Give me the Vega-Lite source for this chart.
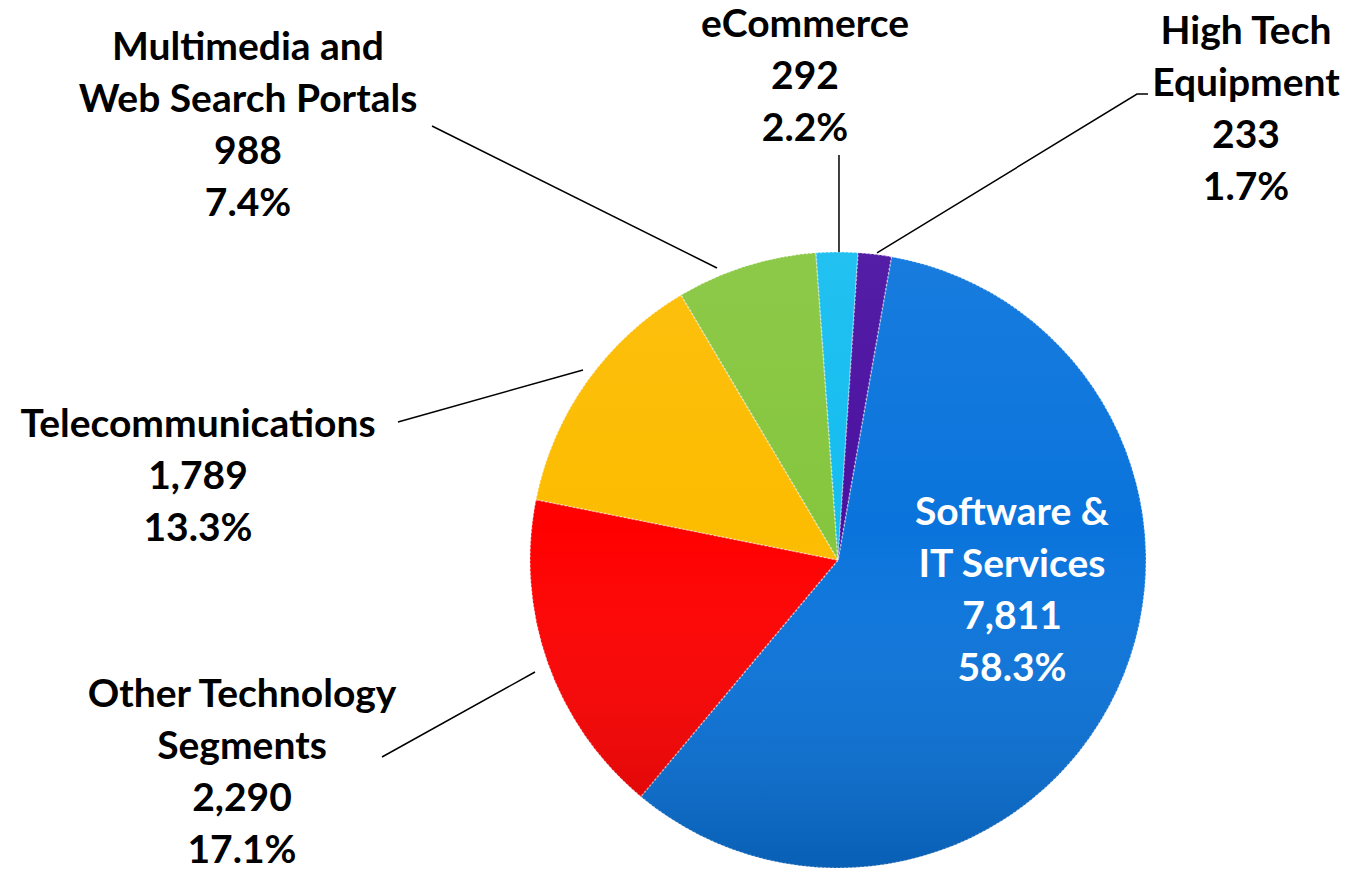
{
  "$schema": "https://vega.github.io/schema/vega-lite/v6.json",
  "width": 1028,
  "height": 620,
  "autosize": {"type": "none"},
  "padding": {"left": 324, "top": 250, "right": 0, "bottom": 0},
  "background": "#ffffff",
  "config": {"view": {"stroke": null}},
  "datasets": {
    "segments": [
      {"segment": "Software & IT Services", "value": 7811, "pct": 58.3, "rank": 1},
      {"segment": "Other Technology Segments", "value": 2290, "pct": 17.1, "rank": 2},
      {"segment": "Telecommunications", "value": 1789, "pct": 13.3, "rank": 3},
      {"segment": "Multimedia and Web Search Portals", "value": 988, "pct": 7.4, "rank": 4},
      {"segment": "eCommerce", "value": 292, "pct": 2.2, "rank": 5},
      {"segment": "High Tech Equipment", "value": 233, "pct": 1.7, "rank": 6}
    ],
    "labels": [
      {"segment": "Software & IT Services", "label": "Software &\nIT Services\n7,811\n58.3%", "inside": true, "lx": 0.5649, "ly": 0.1526},
      {"segment": "Other Technology Segments", "label": "Other Technology\nSegments\n2,290\n17.1%", "inside": false, "lx": -1.9351, "ly": -0.4383},
      {"segment": "Telecommunications", "label": "Telecommunications\n1,789\n13.3%", "inside": false, "lx": -2.0779, "ly": 0.4383},
      {"segment": "Multimedia and Web Search Portals", "label": "Multimedia and\nWeb Search Portals\n988\n7.4%", "inside": false, "lx": -1.9156, "ly": 1.6623},
      {"segment": "eCommerce", "label": "eCommerce\n292\n2.2%", "inside": false, "lx": -0.1071, "ly": 1.737},
      {"segment": "High Tech Equipment", "label": "High Tech\nEquipment\n233\n1.7%", "inside": false, "lx": 1.3247, "ly": 1.7143}
    ],
    "leaders": [
      {"segment": "Other Technology Segments", "i": 0, "lx": -1.4805, "ly": -0.6396},
      {"segment": "Other Technology Segments", "i": 1, "lx": -0.9838, "ly": -0.3636},
      {"segment": "Telecommunications", "i": 0, "lx": -1.4286, "ly": 0.4481},
      {"segment": "Telecommunications", "i": 1, "lx": -0.8279, "ly": 0.6169},
      {"segment": "Multimedia and Web Search Portals", "i": 0, "lx": -1.3182, "ly": 1.4091},
      {"segment": "Multimedia and Web Search Portals", "i": 1, "lx": -0.3929, "ly": 0.9481},
      {"segment": "eCommerce", "i": 0, "lx": 0.0032, "ly": 1.3149},
      {"segment": "eCommerce", "i": 1, "lx": 0.0032, "ly": 1.0},
      {"segment": "High Tech Equipment", "i": 0, "lx": 1.0065, "ly": 1.513},
      {"segment": "High Tech Equipment", "i": 1, "lx": 0.9708, "ly": 1.513},
      {"segment": "High Tech Equipment", "i": 2, "lx": 0.1266, "ly": 0.9968}
    ]
  },
  "layer": [
    {
      "data": {"name": "segments"},
      "mark": {"type": "arc", "outerRadius": 308, "stroke": "#ffffff", "strokeOpacity": 0.5, "strokeWidth": 1.5, "strokeDash": [2, 2]},
      "encoding": {
        "theta": {"field": "value", "type": "quantitative", "stack": true, "scale": {"range": [0.1745, 6.4577]}},
        "order": {"field": "rank", "type": "quantitative", "sort": "ascending"},
        "color": {
          "field": "segment",
          "type": "nominal",
          "scale": {
            "domain": ["Software & IT Services", "Other Technology Segments", "Telecommunications", "Multimedia and Web Search Portals", "eCommerce", "High Tech Equipment"],
            "range": ["#0a74dc", "#ff0000", "#fcbc00", "#86c63e", "#14bdf0", "#4a10a0"]
          },
          "legend": null
        }
      }
    },
    {
      "data": {"name": "segments"},
      "transform": [{"aggregate": [{"op": "sum", "field": "value", "as": "total"}]}],
      "mark": {
        "type": "arc",
        "outerRadius": 308,
        "fill": {
          "gradient": "linear",
          "x1": 0, "y1": 0, "x2": 0, "y2": 1,
          "stops": [
            {"offset": 0, "color": "rgba(255,255,255,0.06)"},
            {"offset": 0.45, "color": "rgba(255,255,255,0)"},
            {"offset": 1, "color": "rgba(0,0,0,0.18)"}
          ]
        }
      },
      "encoding": {
        "theta": {"field": "total", "type": "quantitative", "stack": true}
      }
    },
    {
      "data": {"name": "leaders"},
      "mark": {"type": "line", "stroke": "#000000", "strokeWidth": 1.5},
      "encoding": {
        "x": {"field": "lx", "type": "quantitative", "scale": {"domain": [-1.66883, 1.66883], "nice": false, "zero": false}, "axis": null},
        "y": {"field": "ly", "type": "quantitative", "scale": {"domain": [-1.00649, 1.00649], "nice": false, "zero": false}, "axis": null},
        "detail": {"field": "segment", "type": "nominal"},
        "order": {"field": "i", "type": "quantitative"}
      }
    },
    {
      "data": {"name": "labels"},
      "mark": {"type": "text", "font": "Lato", "fontWeight": "bold", "fontSize": 39, "lineHeight": 52, "align": "center", "baseline": "middle", "lineBreak": "\n"},
      "encoding": {
        "x": {"field": "lx", "type": "quantitative", "scale": {"domain": [-1.66883, 1.66883], "nice": false, "zero": false}, "axis": null},
        "y": {"field": "ly", "type": "quantitative", "scale": {"domain": [-1.00649, 1.00649], "nice": false, "zero": false}, "axis": null},
        "text": {"field": "label", "type": "nominal"},
        "color": {"condition": {"test": "datum.inside", "value": "#ffffff"}, "value": "#000000"}
      }
    }
  ]
}
